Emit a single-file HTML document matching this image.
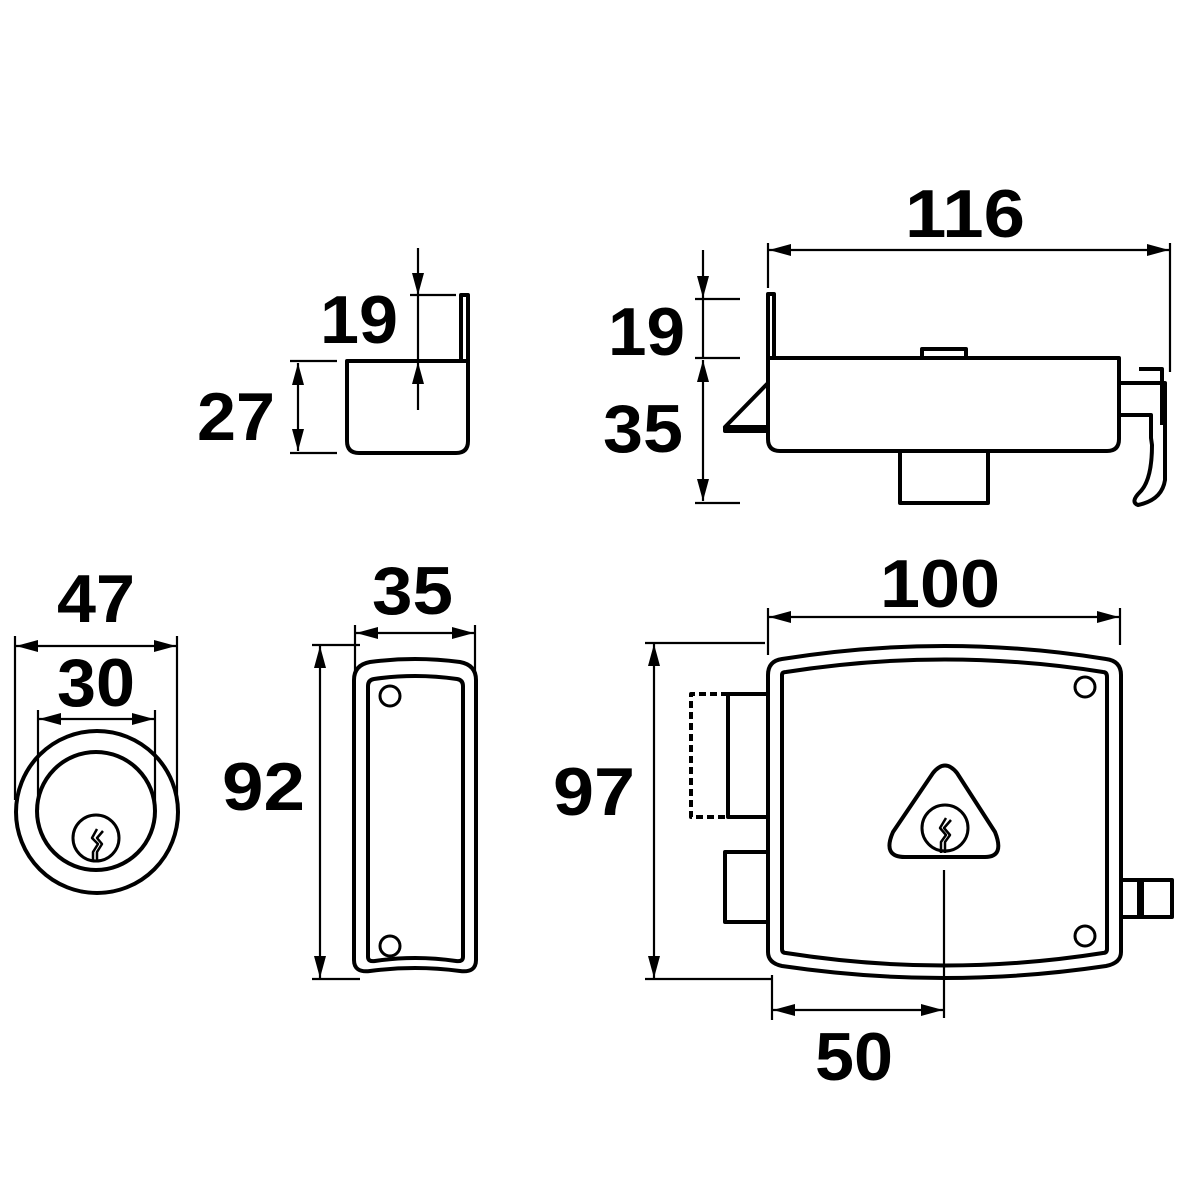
<!DOCTYPE html>
<html><head><meta charset="utf-8"><style>
html,body{margin:0;padding:0;background:#fff}
svg{display:block}
text{font-family:"Liberation Sans",sans-serif;font-weight:bold;font-size:68px;fill:#000}
</style></head><body>
<svg width="1181" height="1181" viewBox="0 0 1181 1181" xmlns="http://www.w3.org/2000/svg">
<defs>
<marker id="a" viewBox="0 0 22 12" refX="22" refY="6" markerWidth="22" markerHeight="12" markerUnits="userSpaceOnUse" orient="auto-start-reverse"><path d="M0,0 L22,6 L0,12 Z" fill="#000"/></marker>
</defs>
<text x="905" y="237" textLength="120" lengthAdjust="spacingAndGlyphs">116</text>
<text x="320" y="343" textLength="78" lengthAdjust="spacingAndGlyphs">19</text>
<text x="197" y="440" textLength="78" lengthAdjust="spacingAndGlyphs">27</text>
<text x="608" y="355" textLength="77" lengthAdjust="spacingAndGlyphs">19</text>
<text x="603" y="452" textLength="80" lengthAdjust="spacingAndGlyphs">35</text>
<text x="57" y="622" textLength="78" lengthAdjust="spacingAndGlyphs">47</text>
<text x="57" y="706" textLength="78" lengthAdjust="spacingAndGlyphs">30</text>
<text x="372" y="614" textLength="81" lengthAdjust="spacingAndGlyphs">35</text>
<text x="222" y="810" textLength="83" lengthAdjust="spacingAndGlyphs">92</text>
<text x="880" y="607" textLength="120" lengthAdjust="spacingAndGlyphs">100</text>
<text x="553" y="815" textLength="82" lengthAdjust="spacingAndGlyphs">97</text>
<text x="815" y="1080" textLength="78" lengthAdjust="spacingAndGlyphs">50</text>

<g fill="none" stroke="#000" stroke-width="2.2">
<line x1="290" y1="361" x2="337" y2="361"/>
<line x1="290" y1="453" x2="337" y2="453"/>
<line x1="298" y1="363" x2="298" y2="451" marker-start="url(#a)" marker-end="url(#a)"/>
<line x1="418" y1="248" x2="418" y2="295" marker-end="url(#a)"/>
<line x1="410" y1="295" x2="456" y2="295"/>
<line x1="418" y1="410" x2="418" y2="362" marker-end="url(#a)"/>
<line x1="418" y1="295" x2="418" y2="362"/>
<line x1="768" y1="243" x2="768" y2="288"/>
<line x1="1170" y1="243" x2="1170" y2="372"/>
<line x1="769" y1="250" x2="1169" y2="250" marker-start="url(#a)" marker-end="url(#a)"/>
<line x1="703" y1="250" x2="703" y2="298" marker-end="url(#a)"/>
<line x1="695" y1="299" x2="740" y2="299"/>
<line x1="695" y1="358" x2="740" y2="358"/>
<line x1="695" y1="503" x2="740" y2="503"/>
<line x1="703" y1="299" x2="703" y2="358"/>
<line x1="703" y1="360" x2="703" y2="501" marker-start="url(#a)" marker-end="url(#a)"/>
<line x1="15" y1="636" x2="15" y2="800"/>
<line x1="177" y1="636" x2="177" y2="800"/>
<line x1="16" y1="646" x2="176" y2="646" marker-start="url(#a)" marker-end="url(#a)"/>
<line x1="38" y1="710" x2="38" y2="810"/>
<line x1="155" y1="710" x2="155" y2="810"/>
<line x1="39" y1="719" x2="154" y2="719" marker-start="url(#a)" marker-end="url(#a)"/>
<line x1="312" y1="645" x2="360" y2="645"/>
<line x1="312" y1="979" x2="360" y2="979"/>
<line x1="320" y1="646" x2="320" y2="978" marker-start="url(#a)" marker-end="url(#a)"/>
<line x1="355" y1="625" x2="355" y2="672"/>
<line x1="475" y1="625" x2="475" y2="672"/>
<line x1="356" y1="633" x2="474" y2="633" marker-start="url(#a)" marker-end="url(#a)"/>
<line x1="768" y1="608" x2="768" y2="655"/>
<line x1="1120" y1="608" x2="1120" y2="645"/>
<line x1="769" y1="617" x2="1119" y2="617" marker-start="url(#a)" marker-end="url(#a)"/>
<line x1="645" y1="643" x2="765" y2="643"/>
<line x1="645" y1="979" x2="773" y2="979"/>
<line x1="654" y1="644" x2="654" y2="978" marker-start="url(#a)" marker-end="url(#a)"/>
<line x1="772" y1="975" x2="772" y2="1020"/>
<line x1="773" y1="1010" x2="943" y2="1010" marker-start="url(#a)" marker-end="url(#a)"/>
<line x1="944" y1="870" x2="944" y2="1018"/>
</g>

<g fill="none" stroke="#000" stroke-width="4" stroke-linejoin="round">
<path d="M347,361 H468 V441 Q468,453 456,453 H359 Q347,453 347,441 Z"/>
<path d="M461,361 V295 H468 V361"/>
<path d="M768,358 H1119 V439 Q1119,451 1107,451 H780 Q768,451 768,439 Z"/>
<path d="M768,358 V294 H774 V358"/>
<path d="M922,358 V349 H966 V358"/>
<path d="M900,451 V503 H988 V451"/>
<path d="M768,383 L725,427 L768,427 M725,427 V431 H768"/>
<path d="M1119,383 H1165 V480 Q1162,500 1138,505 Q1130,502 1140,492 Q1152,480 1152,445 L1151,438 L1151,415 H1119"/>
<path d="M1139,369 H1162 V425"/>
<circle cx="97" cy="812" r="81"/>
<circle cx="96" cy="811" r="59"/>
<circle cx="96" cy="838" r="23" stroke-width="3"/>
<path d="M97,829 L92,838 L98,844 L93,852 L93,860 M103,831 L97,838 L102,844 L97,852 L97,860" stroke-width="2.5"/>
<path d="M354,680 Q354,665 370,662 Q415,656 460,662 Q476,665 476,680 V960 Q476,973 460,971 Q415,965 370,971 Q354,973 354,960 Z"/>
<path d="M368,686 Q368,680 374,679 Q415,673 457,679 Q463,680 463,686 V957 Q463,962 456,961 Q415,955 375,961 Q368,962 368,957 Z"/>
<circle cx="390" cy="696" r="10" stroke-width="3"/>
<circle cx="390" cy="946" r="10" stroke-width="3"/>
<path d="M768,675 Q768,661 782,659 Q945,633 1106,659 Q1121,661 1121,675 V952 Q1121,963 1106,966 Q945,990 782,966 Q768,963 768,952 Z"/>
<path d="M782,675 Q782,672 786,672 Q945,647 1103,672 Q1107,672 1107,677 V949 Q1107,953 1103,953 Q945,978 786,953 Q782,953 782,949 Z"/>
<circle cx="1085" cy="687" r="10" stroke-width="3"/>
<circle cx="1085" cy="936" r="10" stroke-width="3"/>
<path d="M933,773 Q945,758 957,773 L995,832 Q1005,857 985,857 H905 Q882,857 893,832 Z"/>
<circle cx="945" cy="828" r="23" stroke-width="3"/>
<path d="M946,818 L940,828 L946,835 L941,842 L941,853 M951,820 L944,828 L950,835 L945,842 L945,853" stroke-width="2.5"/>
<path d="M768,694 H728 V817 H768"/>
<path d="M728,694 H691 V817 H728" stroke-dasharray="7,4"/>
<path d="M768,852 H725 V922 H768"/>
<path d="M1121,880 H1172 V917 H1121 M1139,880 V917 M1142,880 V917"/>
</g>
</svg>
</body></html>
